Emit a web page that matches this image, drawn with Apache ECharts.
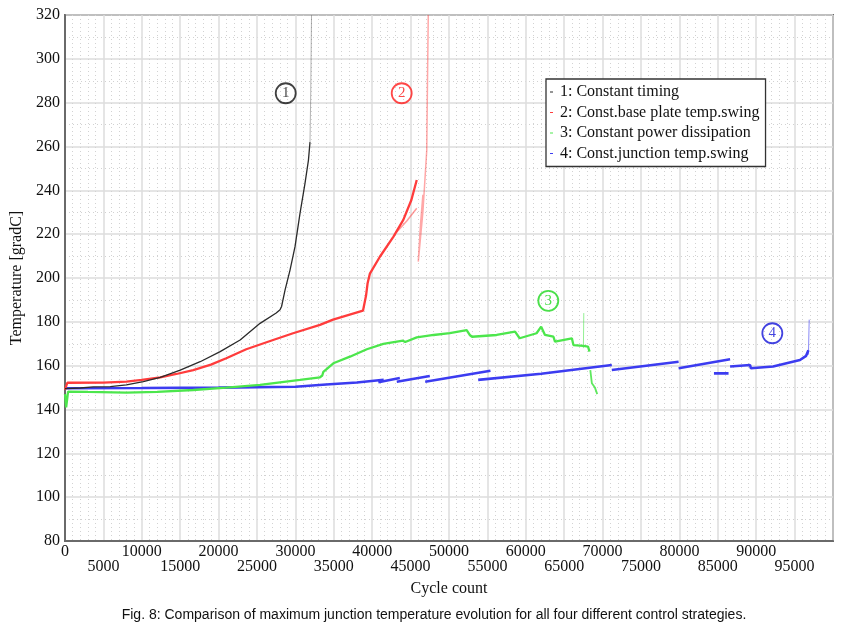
<!DOCTYPE html>
<html>
<head>
<meta charset="utf-8">
<script src="https://cdn.jsdelivr.net/npm/echarts@6/dist/echarts.min.js"></script>
<style>
html,body{margin:0;padding:0;background:#fff;}
#c{width:868px;height:627px;}
</style>
</head>
<body>
<div id="c"></div>
<script>
// ---- data (cycle count, temperature gradC) ----
const legendNames = ['1: Constant timing','2: Const.base plate temp.swing','3: Constant power dissipation','4: Const.junction temp.swing'];
const xTicks = {min:0, max:100000, interval:5000};
const yTicks = {min:80, max:320, interval:20};

const s1Main = [[0,149.5],[2000,149.8],[3700,150.3],[5900,150.4],[8000,151.2],[10200,152.7],[12400,154.7],[15000,158],[17600,161.8],[20200,166.4],[22800,171.7],[25400,179.3],[27500,184],[28000,185.5],[28200,187],[28650,194.5],[29300,203.6],[29950,214.3],[30600,229.5],[31250,243.2],[31700,253.8],[31900,262]];
const s1Faint = [[31900,262],[32000,285],[32100,320]];

const s2Main = [[0,149],[300,152.2],[5000,152.3],[8000,152.7],[10000,153.5],[12400,154.7],[14500,156.2],[16700,158],[19000,160.5],[21000,163.4],[23600,167.5],[27100,171.7],[29700,174.8],[33200,178.6],[34900,181],[38800,185.1],[39060,185.4],[39200,192],[39400,197.6],[39700,202],[41000,209.7],[42750,218.8],[44050,226.5],[45100,235.6],[45800,244.7]];
const s2Branch = [[45800,231.8],[44500,226],[43200,221]];
const s2Faint = [[46600,238],[46300,225],[46000,207.5],[46600,230],[47100,258],[47200,290],[47300,320]];

const s3Main = [[0,147],[150,141],[400,148.2],[3000,148],[8000,147.7],[12000,148],[16700,148.9],[21000,150],[25400,151.2],[30600,153.5],[33200,154.7],[33500,155.5],[33640,157.2],[34940,161.1],[37100,164.1],[39300,167.5],[41450,169.9],[44000,171.4],[44300,170.8],[45800,172.9],[48000,174],[50100,174.8],[52300,176.2],[52700,174],[53000,173.2],[56200,174],[58600,175.5],[59200,172.5],[61400,174.8],[62000,177.8],[62500,174],[63600,173.2],[63800,171],[66000,172.5],[66200,169.4],[67500,169],[68100,168.7],[68300,166.4]];
const s3Drop = [[68400,158],[68600,152],[69000,150],[69300,147]];
const s3Spike = [[67500,168],[67550,184]];

const s4a = [[0,149.7],[10000,149.8],[20000,150],[30000,150.4],[34000,151.4],[38000,152.3],[41500,153.6]];
const s4b = [[40800,152.4],[43600,154.4]];
const s4c = [[43200,152.7],[47500,155.3]];
const s4d = [[46900,152.7],[55400,157.7]];
const s4e = [[53800,153.5],[62000,156.3],[71200,160.3]];
const s4f = [[71200,158],[79900,161.8]];
const s4g = [[79900,158.8],[86600,162.9]];
const s4g2 = [[84500,156.5],[86400,156.5]];
const s4h = [[86600,159.6],[89200,160.3],[89300,158.8],[92200,159.6],[95700,162.6],[96500,164.5],[96800,167]];
const s4Spike = [[96800,165],[96900,181]];

const markers = [
  {label:'1', pos:[28740,284.3], color:'#111'},
  {label:'2', pos:[43840,284.3], color:'#ff1a1a'},
  {label:'3', pos:[62930,189.6], color:'#1ed81e'},
  {label:'4', pos:[92100,174.8], color:'#1414d8'}
];

const caption = 'Fig. 8: Comparison of maximum junction temperature evolution for all four different control strategies.';

// ---- styles ----
const C1 = '#2b2b2b', C2 = '#ff3c3c', C3 = '#4ce64c', C4 = '#3c3cf0';
const serif = 'Liberation Serif';

function line(name, data, color, width, opacity, z) {
  return {type:'line', name:name, data:data, showSymbol:false, symbol:'none', animation:false,
    lineStyle:{color:color, width:width, opacity:opacity}, itemStyle:{color:color}, z:z||2, silent:true};
}

const series = [];
[s4a,s4b,s4c,s4d,s4e,s4f,s4g,s4g2,s4h].forEach(seg => series.push(line(legendNames[3], seg, C4, 2.6, 1, 2)));
series.push(line('s4spike', s4Spike, C4, 1, 0.6, 2));
series.push(line(legendNames[2], s3Main, C3, 2.3, 1, 3));
series.push(line('s3drop', s3Drop, C3, 1.8, 0.9, 3));
series.push(line('s3spike', s3Spike, C3, 1, 0.6, 3));
series.push(line(legendNames[1], s2Main, C2, 2.3, 1, 4));
series.push(line('s2branch', s2Branch, C2, 1.5, 0.5, 4));
series.push(line('s2faint', s2Faint, C2, 1.5, 0.45, 4));
series.push(line(legendNames[0], s1Main, C1, 1.3, 1, 5));
series.push(line('s1faint', s1Faint, C1, 0.8, 0.45, 5));

markers.forEach(m => series.push({
  type:'scatter', data:[m.pos], symbol:'circle', symbolSize:20, animation:false, silent:true, z:6,
  itemStyle:{color:'rgba(255,255,255,0)', borderColor:m.color, borderWidth:1.8},
  label:{show:true, position:'inside', formatter:m.label, color:m.color, fontFamily:serif, fontSize:15}
}));

const chart = echarts.init(document.getElementById('c'), null, {renderer:'canvas'});
chart.setOption({
  backgroundColor:'#fff',
  animation:false,
  grid:{left:65, right:35, top:15, bottom:86, show:true, borderColor:'#6a6a6a', borderWidth:2, backgroundColor:'transparent'},
  legend:{
    data:legendNames, orient:'vertical', left:546, top:79,
    padding:[5,6,5,4], itemGap:4.5, itemWidth:3, itemHeight:1, icon:'rect',
    backgroundColor:'#fff', borderColor:'#333', borderWidth:1.3,
    textStyle:{fontFamily:serif, fontSize:16, color:'#111', lineHeight:16, padding:[0,0,0,2]},
    selectedMode:false
  },
  title:{text:caption, left:'center', top:603,
    textStyle:{fontFamily:'Liberation Sans', fontSize:14, fontWeight:'normal', color:'#111'}},
  xAxis:{
    type:'value', min:xTicks.min, max:xTicks.max, interval:xTicks.interval,
    name:'Cycle count', nameLocation:'middle', nameGap:40,
    nameTextStyle:{fontFamily:serif, fontSize:16, color:'#111'},
    axisLine:{show:true, lineStyle:{color:'#6a6a6a', width:2}},
    axisTick:{show:false},
    axisLabel:{fontFamily:serif, fontSize:16, color:'#111', margin:3, lineHeight:15,
      formatter:v => (v % 10000 === 0 ? String(v) : '\n' + v)},
    splitLine:{show:true, lineStyle:{color:'#dcdcdc', width:1.5}},
    minorTick:{show:false, splitNumber:5},
    minorSplitLine:{show:true, lineStyle:{color:'#d2d2d2', width:1, type:[1,3]}}
  },
  yAxis:{
    type:'value', min:yTicks.min, max:yTicks.max, interval:yTicks.interval,
    name:'Temperature [gradC]', nameLocation:'middle', nameGap:36,
    nameTextStyle:{fontFamily:serif, fontSize:16, color:'#111'},
    axisLine:{show:true, lineStyle:{color:'#6a6a6a', width:2}},
    axisTick:{show:false},
    axisLabel:{fontFamily:serif, fontSize:16, color:'#111', margin:5},
    splitLine:{show:true, lineStyle:{color:'#dcdcdc', width:1.5}},
    minorTick:{show:false, splitNumber:2},
    minorSplitLine:{show:true, lineStyle:{color:'#d2d2d2', width:1, type:[1,3]}}
  },
  series:series
});
</script>
</body>
</html>
